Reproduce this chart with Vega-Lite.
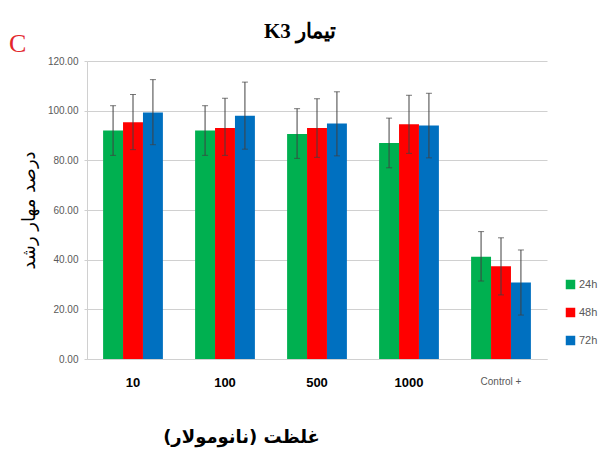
{
  "$schema": "https://vega.github.io/schema/vega-lite/v6.json",
  "background": "white",
  "padding": {"left": 9, "top": 21, "right": 5, "bottom": 5},
  "title": {"text": "C", "anchor": "start", "frame": "group", "color": "#e3262b", "font": "Liberation Serif", "fontSize": 26, "fontWeight": "normal", "dy": 36, "dx": -78, "offset": 0},
  "data": {"values": [
    {"conc": "10", "time": "24h", "value": 92, "low": 82, "high": 102},
    {"conc": "10", "time": "48h", "value": 95.3, "low": 84.3, "high": 106.5},
    {"conc": "10", "time": "72h", "value": 99.3, "low": 86.3, "high": 112.5},
    {"conc": "100", "time": "24h", "value": 92, "low": 82, "high": 102},
    {"conc": "100", "time": "48h", "value": 93, "low": 82, "high": 105},
    {"conc": "100", "time": "72h", "value": 98, "low": 84.5, "high": 111.5},
    {"conc": "500", "time": "24h", "value": 90.6, "low": 80.8, "high": 100.8},
    {"conc": "500", "time": "48h", "value": 93, "low": 81.2, "high": 104.8},
    {"conc": "500", "time": "72h", "value": 94.8, "low": 81.8, "high": 107.6},
    {"conc": "1000", "time": "24h", "value": 87, "low": 77, "high": 97},
    {"conc": "1000", "time": "48h", "value": 94.5, "low": 82.8, "high": 106.2},
    {"conc": "1000", "time": "72h", "value": 94, "low": 81, "high": 107},
    {"conc": "Control +", "time": "24h", "value": 41.2, "low": 31.4, "high": 51.3},
    {"conc": "Control +", "time": "48h", "value": 37.3, "low": 25.8, "high": 48.8},
    {"conc": "Control +", "time": "72h", "value": 30.8, "low": 17.7, "high": 43.9}
  ]},
  "vconcat": [{
    "width": 460,
    "height": 298,
    "title": {"text": "\u202bتیمار K3\u202c", "anchor": "middle", "font": "Liberation Serif", "fontSize": 21, "fontWeight": "bold", "color": "black", "offset": 14, "dx": -17},
    "encoding": {
      "x": {"field": "conc", "type": "nominal", "sort": null,
        "scale": {"paddingInner": 0.35, "paddingOuter": 0.175},
        "axis": {"title": "\u202bغلظت (نانومولار)\u202c", "titleFontSize": 18, "titleFontWeight": "bold", "titleFont": "DejaVu Sans", "titleColor": "black", "titlePadding": 39, "titleX": 154, "labelAngle": 0, "labelPadding": 17, "labelColor": {"condition": {"test": "datum.value == 'Control +'", "value": "#595959"}, "value": "black"}, "labelFontSize": {"condition": {"test": "datum.value == 'Control +'", "value": 10}, "value": 13}, "labelFontWeight": {"condition": {"test": "datum.value == 'Control +'", "value": "normal"}, "value": "bold"}, "labelFont": "Liberation Sans", "ticks": false, "domainColor": "#d0d0d0", "grid": false}},
      "xOffset": {"field": "time", "type": "nominal", "scale": {"paddingInner": 0, "paddingOuter": 0}}
    },
    "layer": [
      {"mark": {"type": "bar"},
       "encoding": {
         "y": {"field": "value", "type": "quantitative", "scale": {"domain": [0, 120], "nice": false},
           "axis": {"title": "\u202bدرصد مهار رشد\u202c", "values": [0, 20, 40, 60, 80, 100, 120]}},
         "color": {"field": "time", "type": "nominal", "scale": {"domain": ["24h", "48h", "72h"], "range": ["#00b050", "#ff0000", "#0070c0"]},
           "legend": {"title": null, "orient": "none", "legendX": 478, "legendY": 218, "symbolType": "square", "symbolSize": 90, "symbolStrokeWidth": 0, "labelFontSize": 11, "labelColor": "#595959", "labelFont": "Liberation Sans", "rowPadding": 16, "labelOffset": 3}}
       }},
      {"mark": {"type": "rule", "color": "#404040", "strokeWidth": 1},
       "encoding": {"y": {"field": "low", "type": "quantitative", "axis": {"title": "\u202bدرصد مهار رشد\u202c", "values": [0, 20, 40, 60, 80, 100, 120]}}, "y2": {"field": "high"}}},
      {"mark": {"type": "tick", "color": "#404040", "thickness": 1, "size": 6},
       "encoding": {"y": {"field": "low", "type": "quantitative", "axis": {"title": "\u202bدرصد مهار رشد\u202c", "values": [0, 20, 40, 60, 80, 100, 120]}}}},
      {"mark": {"type": "tick", "color": "#404040", "thickness": 1, "size": 6},
       "encoding": {"y": {"field": "high", "type": "quantitative", "axis": {"title": "\u202bدرصد مهار رشد\u202c", "values": [0, 20, 40, 60, 80, 100, 120]}}}}
    ]
  }],
  "config": {
    "view": {"stroke": null},
    "axisY": {"titleFontSize": 18, "titleFontWeight": "normal", "titleFont": "DejaVu Sans", "titleColor": "black", "titlePadding": 9, "labelOverlap": false, "format": ".2f", "labelFontSize": 10, "labelColor": "#595959", "labelFont": "Liberation Sans", "labelPadding": 6, "tickSize": 3, "tickColor": "#d0d0d0", "domainColor": "#d0d0d0", "gridColor": "#d0d0d0"}
  }
}
